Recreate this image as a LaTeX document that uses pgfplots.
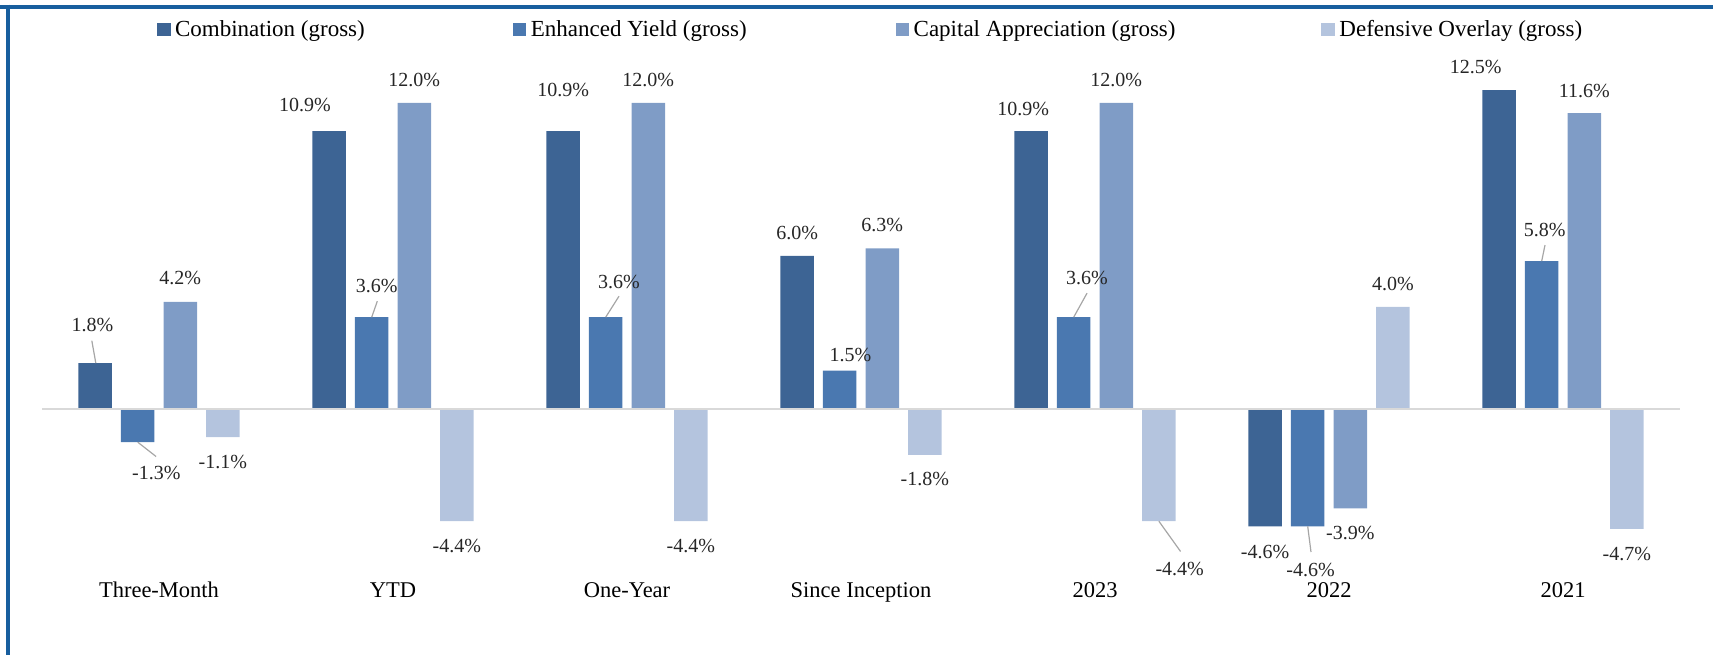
\documentclass[border=0pt]{standalone}
\usepackage{pgfplots}
\usepackage{pgfplotstable}
\pgfplotsset{compat=1.18}
\usepackage{fontspec}
\setmainfont{Liberation Serif}

\definecolor{cComb}{RGB}{61,100,148}
\definecolor{cEnh}{RGB}{74,120,176}
\definecolor{cCap}{RGB}{127,156,198}
\definecolor{cDef}{RGB}{180,196,222}
\definecolor{frameblue}{RGB}{24,94,158}

% x = category index, y = value
\pgfplotstableread{
x y
0 1.8
1 10.9
2 10.9
3 6.0
4 10.9
5 -4.6
6 12.5
}\combtable
\pgfplotstableread{
x y
0 -1.3
1 3.6
2 3.6
3 1.5
4 3.6
5 -4.6
6 5.8
}\enhtable
\pgfplotstableread{
x y
0 4.2
1 12.0
2 12.0
3 6.3
4 12.0
5 -3.9
6 11.6
}\captable
\pgfplotstableread{
x y
0 -1.1
1 -4.4
2 -4.4
3 -1.8
4 -4.4
5 4.0
6 -4.7
}\deftable

% label offsets (bp) per category
\def\combdx{{-1.3,-12.1,0,0,-3.9,0,-11.75}}
\def\combdy{{18.85,13.2,20.35,11.7,10.85,-12.85,11.5}}
\def\enhdx{{9.3,2.55,6.65,5.4,6.65,1.4,1.45}}
\def\enhdy{{-15.25,15.8,17.8,8,19.65,-21.85,15.5}}
\def\capdx{{0,0,0,0,0,0,0}}
\def\capdy{{12,11.5,11.5,11.65,11.5,-12.15,11.15}}
\def\defdx{{0,0,0,0,10.4,0,0}}
\def\defdy{{-12.5,-12.3,-12.3,-12,-23.65,11.65,-12.5}}

\begin{document}
\begin{tikzpicture}
\path[use as bounding box] (-21bp,-33.75bp) rectangle (835.5bp,293.75bp);
\begin{axis}[
  at={(0,0)}, anchor=south west,
  scale only axis, width=819bp, height=267.75bp,
  xmin=-0.5, xmax=6.5, ymin=-7, ymax=14,
  axis line style={draw=none},
  ytick=\empty,
  xtick={0,...,6},
  xticklabels={Three-Month,YTD,One-Year,Since Inception,2023,2022,2021},
  major tick length=0pt,
  xticklabel style={font=\fontsize{11.25bp}{13bp}\selectfont, text=black, anchor=base, yshift=-4.75bp},
  clip=false,
  lab/.style n args={3}{
    point meta=explicit symbolic,
    nodes near coords={\pgfplotspointmeta\%},
    visualization depends on={value \coordindex\as\idx},
    every node near coord/.append style={font=\fontsize{10bp}{12bp}\selectfont, text=black!85, anchor=center, inner sep=0pt, xshift={#1[\idx]*1bp}, xshift=#3bp, yshift={#2[\idx]*1bp}},
  },
  legend columns=4,
  legend style={at={(axis description cs:0,1)}, anchor=west, xshift=57.5bp, yshift=10.85bp,
    draw=none, fill=none, inner sep=0pt, outer sep=0pt, column sep=0pt,
    font=\fontsize{11.5bp}{13bp}\selectfont,
    /tikz/every odd column/.append style={column sep=2.3bp},
    nodes={inner sep=0pt}},
]
\addlegendimage{legend image code/.code={\fill[cComb] (0bp,-2.7bp) rectangle (6.35bp,3.65bp);}}
\addlegendentry{\makebox[168.85bp][l]{Combination (gross)}}
\addlegendimage{legend image code/.code={\fill[cEnh] (0bp,-2.7bp) rectangle (6.35bp,3.65bp);}}
\addlegendentry{\makebox[182.35bp][l]{Enhanced Yield (gross)}}
\addlegendimage{legend image code/.code={\fill[cCap] (0bp,-2.7bp) rectangle (6.35bp,3.65bp);}}
\addlegendentry{\makebox[203.85bp][l]{Capital Appreciation (gross)}}
\addlegendimage{legend image code/.code={\fill[cDef] (0bp,-2.7bp) rectangle (6.35bp,3.65bp);}}
\addlegendentry{Defensive Overlay (gross)}

\addplot[ybar, bar width=0.143, bar shift=-0.273, fill=cComb, draw=none, forget plot, lab={\combdx}{\combdy}{-31.94}] table[x=x,y=y,meta=y]{\combtable};
\addplot[ybar, bar width=0.143, bar shift=-0.091, fill=cEnh, draw=none, forget plot, lab={\enhdx}{\enhdy}{-10.65}] table[x=x,y=y,meta=y]{\enhtable};
\addplot[ybar, bar width=0.143, bar shift=0.091, fill=cCap, draw=none, forget plot, lab={\capdx}{\capdy}{10.65}] table[x=x,y=y,meta=y]{\captable};
\addplot[ybar, bar width=0.143, bar shift=0.273, fill=cDef, draw=none, forget plot, lab={\defdx}{\defdy}{31.94}] table[x=x,y=y,meta=y]{\deftable};

\draw[draw=black!15, line width=1bp] (axis cs:-0.5,0) -- (axis cs:6.5,0);

\begin{scope}[draw=black!35, line width=0.6bp]
\draw (axis cs:-0.270,1.8) -- ++(-2bp,11.2bp);
\draw (axis cs:-0.091,-1.3) -- ++(9.2bp,-7.2bp);
\draw (axis cs:0.909,3.6) -- ++(2.8bp,8bp);
\draw (axis cs:1.909,3.6) -- ++(6.65bp,10.5bp);
\draw (axis cs:3.909,3.6) -- ++(6.65bp,12bp);
\draw (axis cs:4.273,-4.4) -- ++(10.85bp,-15.15bp);
\draw (axis cs:4.909,-4.6) -- ++(1.65bp,-12.85bp);
\draw (axis cs:5.909,5.8) -- ++(1.65bp,8bp);
\end{scope}
\end{axis}
\draw[frameblue, line width=2bp] (-21bp,290.4bp) -- (835.5bp,290.4bp);
\draw[frameblue, line width=2bp] (-17bp,291.4bp) -- (-17bp,-33.75bp);
\end{tikzpicture}
\end{document}
